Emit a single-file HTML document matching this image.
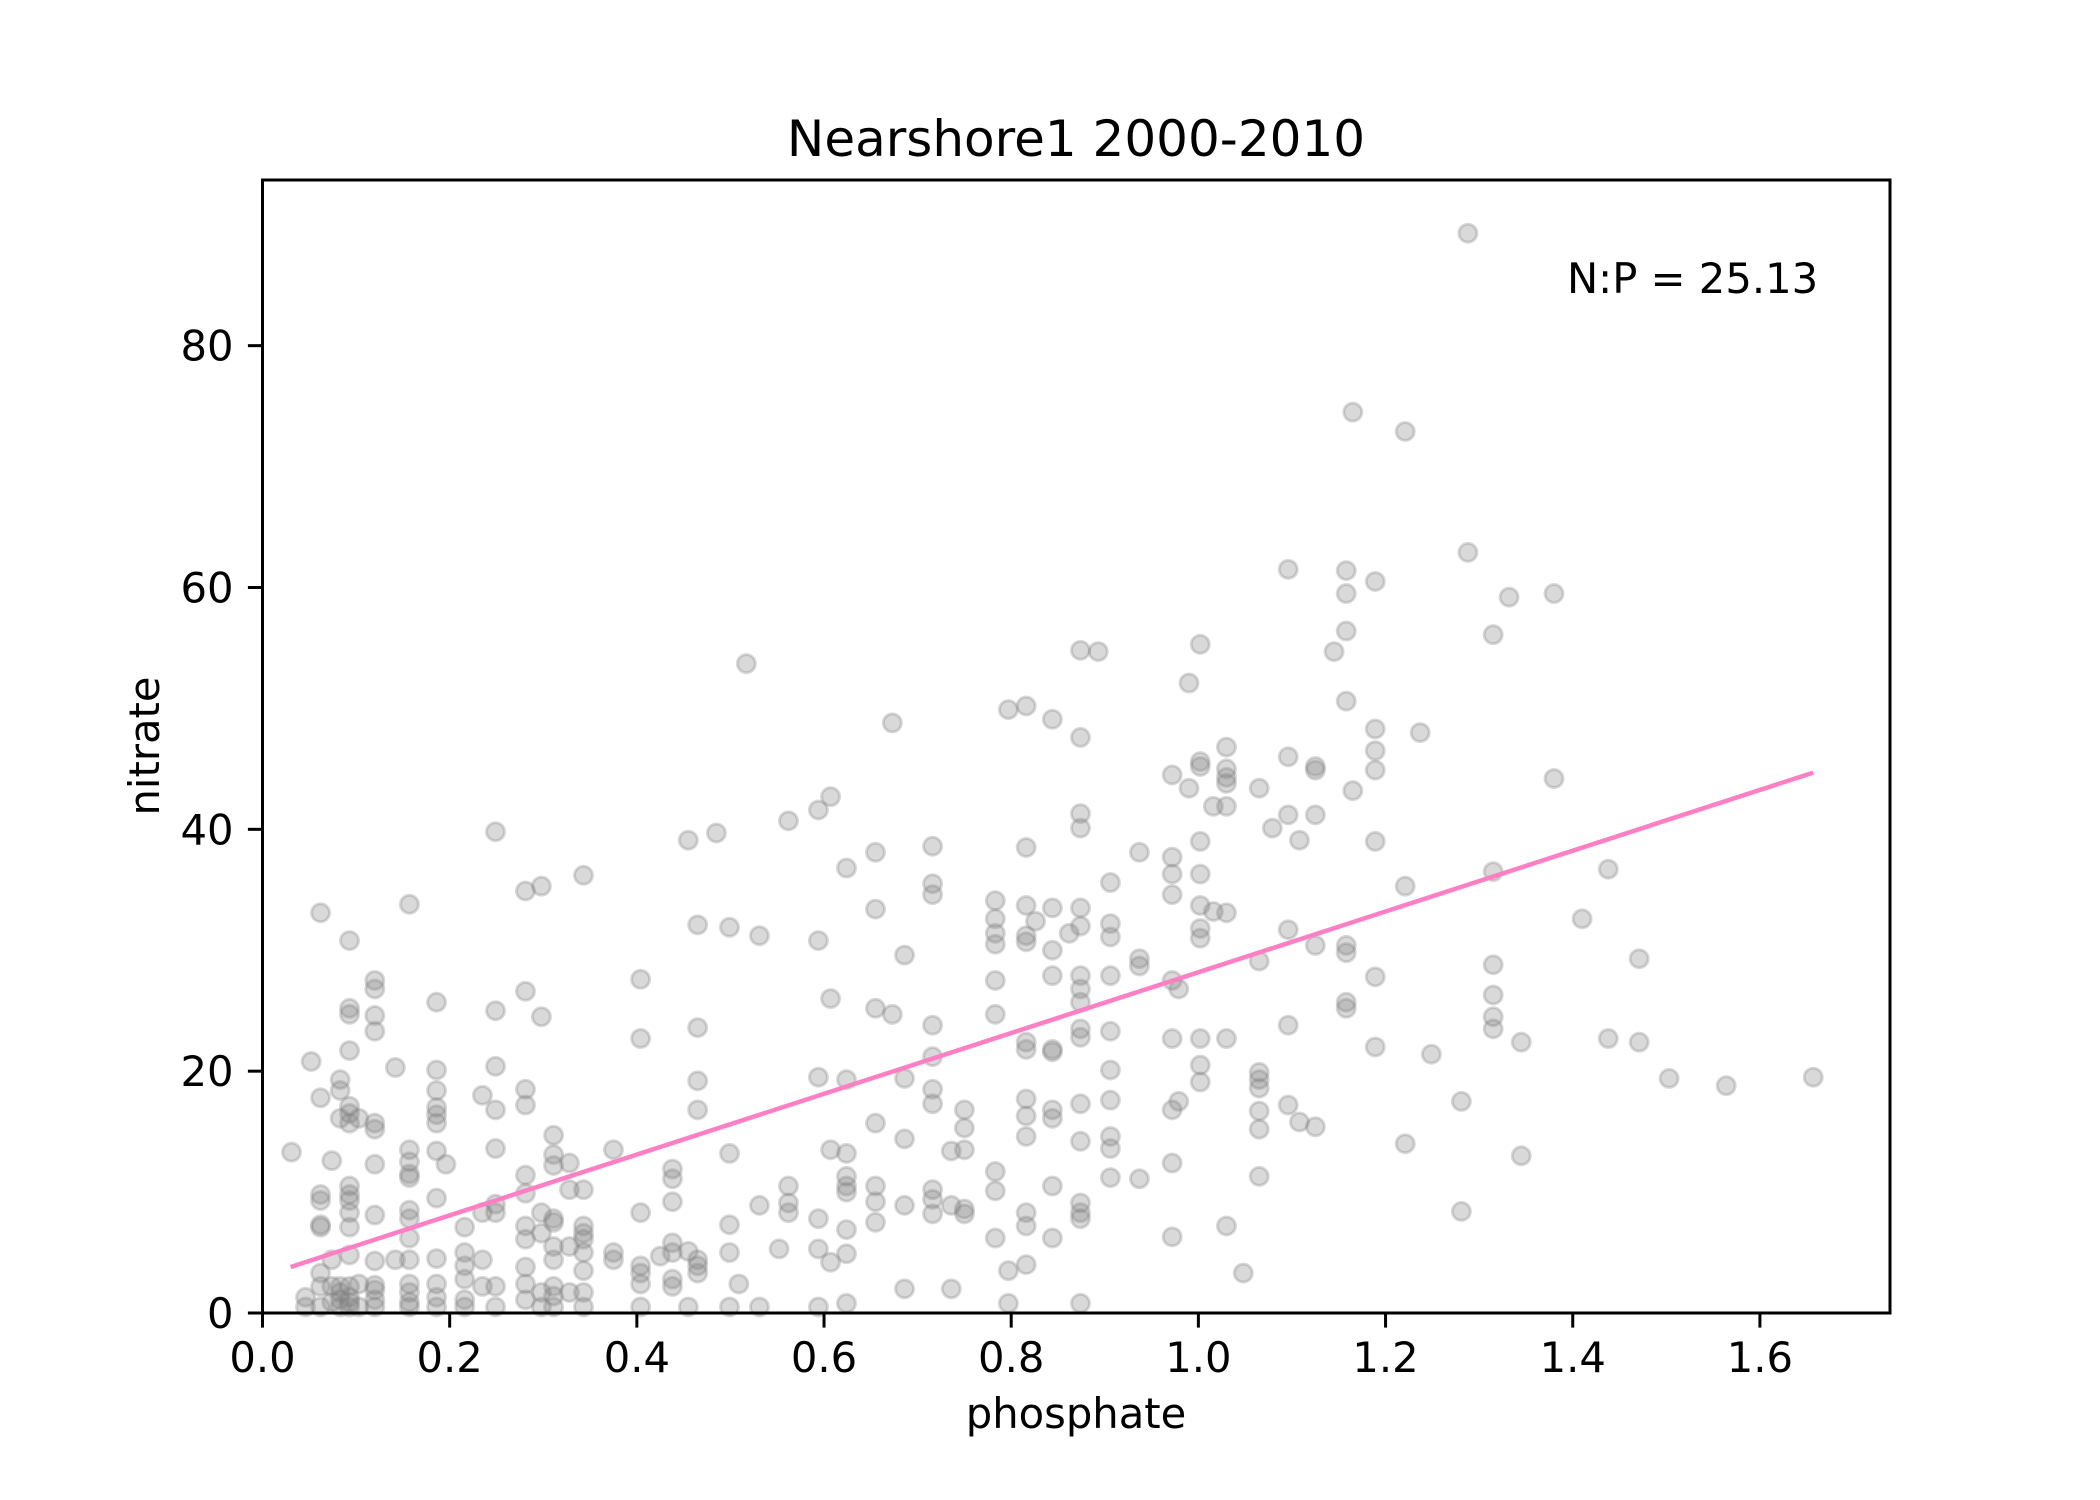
<!DOCTYPE html>
<html><head><meta charset="utf-8"><style>
html,body{margin:0;padding:0;background:#fff}
svg{display:block;font-family:"DejaVu Sans","Liberation Sans",sans-serif}
</style></head><body>
<svg id="chart" width="2100" height="1500" viewBox="0 0 2100 1500">
<rect width="2100" height="1500" fill="#fff"/>
<text x="1076" y="156" font-size="50" text-anchor="middle">Nearshore1 2000-2010</text>
<g id="points"></g>
<line id="fit" stroke="#ff7fc4" stroke-width="4.5"/>
<rect x="262.5" y="180" width="1627.5" height="1133" fill="none" stroke="#000" stroke-width="3"/>
<g id="xticks"></g>
<g id="yticks"></g>
<text x="1567" y="293" font-size="41.7" text-anchor="start">N:P = 25.13</text>
<text x="1076" y="1428" font-size="41.7" text-anchor="middle">phosphate</text>
<text x="159" y="746" font-size="41.7" text-anchor="middle" transform="rotate(-90 159 746)">nitrate</text>
</svg>
<script>
const xTicks=[0.0,0.2,0.4,0.6,0.8,1.0,1.2,1.4,1.6];
const xTickLabels=["0.0","0.2","0.4","0.6","0.8","1.0","1.2","1.4","1.6"];
const yTicks=[0,20,40,60,80];
const yTickLabels=["0","20","40","60","80"];
const slope=25.13;
const intercept=3.05;
const fitRange=[0.03,1.657];
const phosphateCols=[.031,.046,.052,.062,.074,.083,.093,.103,.120,.142,.157,.186,.196,.216,.235,.249,.281,.298,.311,.328,.343,.375,.404,.425,.438,.455,.465,.485,.499,.509,.517,.531,.552,.562,.594,.607,.624,.655,.673,.686,.716,.736,.750,.783,.797,.816,.826,.844,.862,.874,.893,.906,.937,.972,.979,.990,1.002,1.016,1.030,1.048,1.065,1.079,1.096,1.108,1.125,1.145,1.158,1.165,1.189,1.221,1.237,1.249,1.281,1.288,1.315,1.332,1.345,1.380,1.410,1.438,1.471,1.503,1.564,1.657];
const nitrateByCol=[
[13.3],[1.3,0.5],[20.8],
[33.1,17.8,9.8,9.3,7.3,7.1,3.3,2.2,0.5],
[12.6,4.4,2.2,0.9],
[19.3,18.4,16.1,2.2,1.7,1.1,0.5],
[30.8,25.2,24.7,21.7,17.1,16.5,15.7,10.5,9.8,9.3,8.3,7.1,4.8,2.2,1.3,0.9,0.5],
[16.1,2.4,0.5],
[27.5,26.8,24.6,23.3,15.7,15.2,12.3,8.1,4.3,2.3,1.9,1.1,0.5],
[20.3,4.4],
[33.8,13.5,12.5,11.5,11.2,8.5,7.8,6.2,4.4,2.4,1.7,0.9,0.5],
[25.7,20.1,18.4,17.0,16.4,15.7,13.4,9.5,4.5,2.4,1.3,0.5],
[12.3],
[7.1,5.0,3.9,2.8,1.1,0.5],
[18.0,8.3,4.4,2.2],
[39.8,25.0,20.4,16.8,13.6,9.0,8.3,2.2,0.5],
[34.9,26.6,18.5,17.2,11.4,9.9,7.2,6.1,3.8,2.4,1.1],
[35.3,24.5,8.3,6.6,1.7,0.5],
[14.7,13.1,12.2,7.8,7.5,5.5,4.4,2.2,1.4,0.5],
[12.4,10.2,5.5,1.7],
[36.2,10.2,7.2,6.6,6.1,5.0,3.5,1.7,0.5],
[13.5,5.0,4.4],
[22.7,27.6,8.3,3.9,3.3,2.4,0.5],
[4.7],
[11.9,11.1,9.2,5.8,5.0,2.8,2.2],
[39.1,5.1,0.5],
[32.1,23.6,19.2,16.8,4.4,3.9,3.3],
[39.7],
[31.9,13.2,7.3,5.0,0.5],
[2.4],[53.7],
[31.2,8.9,0.5],
[5.3],
[40.7,10.5,9.1,8.3],
[41.6,30.8,19.5,7.8,5.3,0.5],
[42.7,26.0,13.5,4.2],
[36.8,19.3,13.2,11.3,10.5,10.0,6.9,4.9,0.8],
[38.1,33.4,25.2,15.7,10.5,9.2,7.5],
[48.8,24.7],
[29.6,19.4,14.4,8.9,2.0],
[38.6,35.5,34.6,23.8,21.2,18.5,17.3,10.2,9.4,8.2],
[13.4,8.9,2.0],
[16.8,15.3,13.5,8.6,8.2],
[34.1,32.6,31.4,30.5,27.5,24.7,11.7,10.1,6.2],
[49.9,3.5,0.8],
[50.2,38.5,33.7,31.2,30.7,22.4,21.8,17.7,16.3,14.6,8.3,7.2,4.0],
[32.4],
[49.1,33.5,30.0,27.9,21.8,21.6,16.8,16.1,10.5,6.2],
[31.4],
[54.8,47.6,41.3,40.1,33.5,32.0,27.9,26.8,25.7,23.5,22.8,17.3,14.2,9.1,8.3,7.8,0.8],
[54.7],
[35.6,32.2,31.1,27.9,23.3,20.1,17.6,14.6,13.6,11.2],
[38.1,29.3,28.7,11.1],
[44.5,37.7,36.3,34.6,27.5,22.7,16.8,12.4,6.3],
[26.8,17.5],
[52.1,43.4],
[55.3,45.6,45.2,39.0,36.3,33.7,31.8,31.0,22.7,20.5,19.1],
[41.9,33.2],
[46.8,45.0,44.3,43.8,41.9,33.1,22.7,7.2],
[3.3],
[43.4,29.1,19.9,19.3,18.6,16.7,15.2,11.3],
[40.1],
[61.5,46.0,41.2,31.7,23.8,17.2],
[39.1,15.8],
[30.4,45.2,44.9,41.2,15.4],
[54.7],
[61.4,59.5,56.4,50.6,30.4,29.8,25.7,25.2],
[74.5,43.2],
[60.5,48.3,46.5,44.9,39.0,27.8,22.0],
[72.9,35.3,14.0],
[48.0],[21.4],
[8.4,17.5],
[62.9,89.3],
[56.1,36.5,28.8,26.3,24.5,23.5],
[59.2],
[22.4,13.0],
[59.5,44.2],
[32.6],
[36.7,22.7],
[29.3,22.4],
[19.4],[18.8],[19.5]
];
const NS="http://www.w3.org/2000/svg";
const L=262.5,R=1890,T=180,B=1313,XMAX=1.739,YMAX=93.7;
function sx(v){return L+v/XMAX*(R-L);}
function sy(v){return B-v/YMAX*(B-T);}
const pts=document.getElementById('points');
phosphateCols.forEach((x,i)=>{
  nitrateByCol[i].forEach(y=>{
    const c=document.createElementNS(NS,'circle');
    c.setAttribute('cx',sx(x));c.setAttribute('cy',sy(y));c.setAttribute('r',9);
    c.setAttribute('fill','#808080');c.setAttribute('fill-opacity','0.3');
    c.setAttribute('stroke','#808080');c.setAttribute('stroke-opacity','0.3');c.setAttribute('stroke-width','3');
    
    
    pts.appendChild(c);
  });
});
const fit=document.getElementById('fit');
fit.setAttribute('x1',sx(fitRange[0]));fit.setAttribute('y1',sy(intercept+slope*fitRange[0]));
fit.setAttribute('x2',sx(fitRange[1]));fit.setAttribute('y2',sy(intercept+slope*fitRange[1]));
const xg=document.getElementById('xticks');
xTicks.forEach((v,i)=>{
  const l=document.createElementNS(NS,'line');
  l.setAttribute('x1',sx(v));l.setAttribute('x2',sx(v));l.setAttribute('y1',B);l.setAttribute('y2',B+14.6);
  l.setAttribute('stroke','#000');l.setAttribute('stroke-width','3');
  
  
  xg.appendChild(l);
  const t=document.createElementNS(NS,'text');
  t.setAttribute('x',sx(v));t.setAttribute('y',1372);t.setAttribute('font-size','41.7');t.setAttribute('text-anchor','middle');
  t.textContent=xTickLabels[i];
  
  
  xg.appendChild(t);
});
const yg=document.getElementById('yticks');
yTicks.forEach((v,i)=>{
  const l=document.createElementNS(NS,'line');
  l.setAttribute('x1',L-14.6);l.setAttribute('x2',L);l.setAttribute('y1',sy(v));l.setAttribute('y2',sy(v));
  l.setAttribute('stroke','#000');l.setAttribute('stroke-width','3');
  
  
  yg.appendChild(l);
  const t=document.createElementNS(NS,'text');
  t.setAttribute('x',L-29);t.setAttribute('y',sy(v)+15);t.setAttribute('font-size','41.7');t.setAttribute('text-anchor','end');
  t.textContent=yTickLabels[i];
  
  
  yg.appendChild(t);
});
</script>
</body></html>
